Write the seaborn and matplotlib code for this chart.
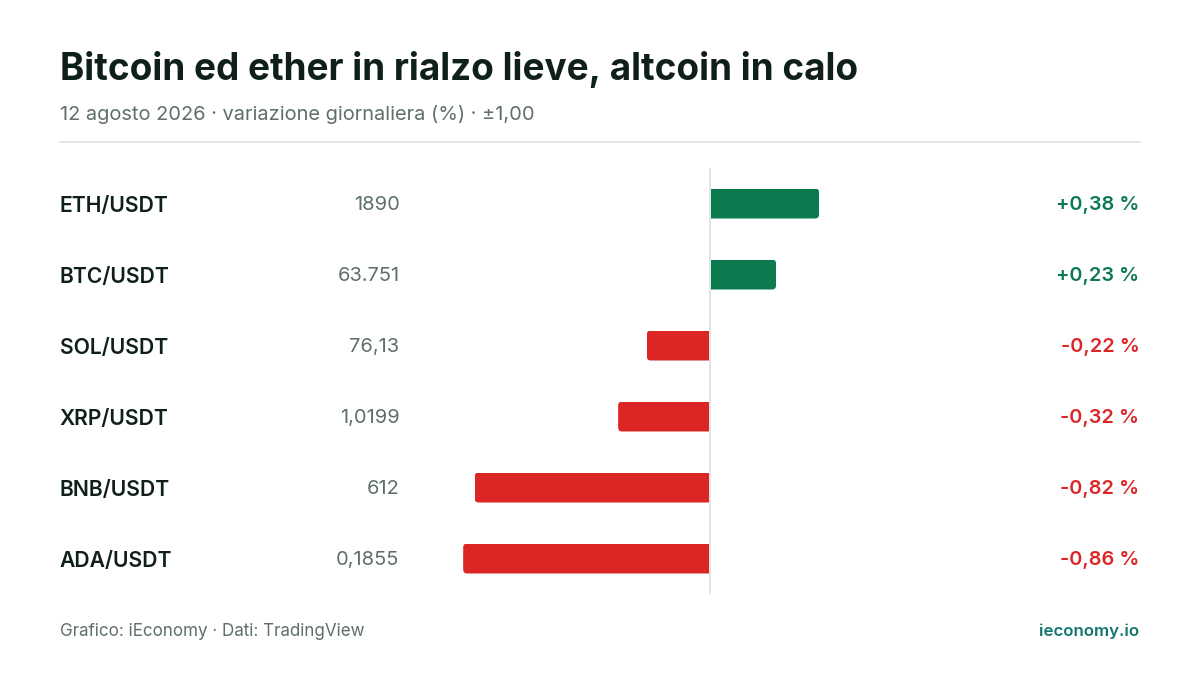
import matplotlib
matplotlib.use("Agg")
import matplotlib.pyplot as plt
from matplotlib.patches import FancyBboxPatch
from matplotlib.transforms import IdentityTransform
import pandas as pd
import seaborn as sns

pairs = ["ETH/USDT", "BTC/USDT", "SOL/USDT", "XRP/USDT", "BNB/USDT", "ADA/USDT"]
prices = ["1890", "63.751", "76,13", "1,0199", "612", "0,1855"]
changes = [0.38, 0.23, -0.22, -0.32, -0.82, -0.86]
change_labels = ["+0,38 %", "+0,23 %", "-0,22 %", "-0,32 %", "-0,82 %", "-0,86 %"]

GREEN = "#0b7a4f"
RED = "#dc2626"
DARK = "#0f1f1c"
GRAY = "#5f6f6b"
RULE = "#e0e6e4"
W, H = 1200, 675

sns.set_theme(style="white")
plt.rcParams["font.family"] = ["Inter", "DejaVu Sans"]

df = pd.DataFrame({"pair": pairs, "change": changes})
df["sign"] = ["up" if c > 0 else "down" for c in changes]

fig = plt.figure(figsize=(12, 6.75), dpi=100, facecolor="white")


def put(x, y, s, size, color, weight="normal", ha="left"):
    # x, y in pixels from the top left, size in pixels
    fig.text(x / W, 1 - y / H, s, fontsize=size * 0.72, color=color,
             fontweight=weight, ha=ha, va="center_baseline")


ax = fig.add_axes([423 / W, 1 - 594 / H, 574 / W, 426 / H])
sns.barplot(data=df, x="change", y="pair", hue="sign", dodge=False, legend=False,
            palette={"up": GREEN, "down": RED}, width=30 / 71, saturation=1,
            orient="h", linewidth=0, ax=ax)
ax.set_xlim(-1, 1)
ax.set_ylim(5.5, -0.5)
ax.axis("off")
ax.axvline(0, color=RULE, lw=1.44, zorder=5)

# round the outer end of each bar, the end at zero stays square
fig.canvas.draw()
for bar in ax.patches:
    box = bar.get_window_extent()
    if box.width < 1:
        continue
    x0 = box.x0 - 16 if bar.get_width() > 0 else box.x0
    clip = FancyBboxPatch((x0, box.y0), box.width + 16, box.height,
                          boxstyle="round,pad=0,rounding_size=4",
                          transform=IdentityTransform())
    bar.set_clip_path(clip)

put(60, 66, "Bitcoin ed ether in rialzo lieve, altcoin in calo", 36.9, DARK, "bold")
put(60, 113, "12 agosto 2026 · variazione giornaliera (%) · ±1,00", 20, GRAY)
fig.add_artist(plt.Line2D([60 / W, 1140 / W], [1 - 142 / H] * 2, color=RULE, lw=1.44))

for i, (pair, price, change, label) in enumerate(zip(pairs, prices, changes, change_labels)):
    y = 203 + 71 * i
    put(59.6, y + 1, pair, 21.1, DARK, "semibold")
    put(399.5, y, price, 20, GRAY, ha="right")
    put(1139.5, y, label, 19.9, GREEN if change > 0 else RED, "semibold", ha="right")

put(60, 630, "Grafico: iEconomy · Dati: TradingView", 17, GRAY)
put(1139, 630, "ieconomy.io", 16.8, "#0f766e", "semibold", ha="right")

fig.savefig("out.png", dpi=100, facecolor="white")
